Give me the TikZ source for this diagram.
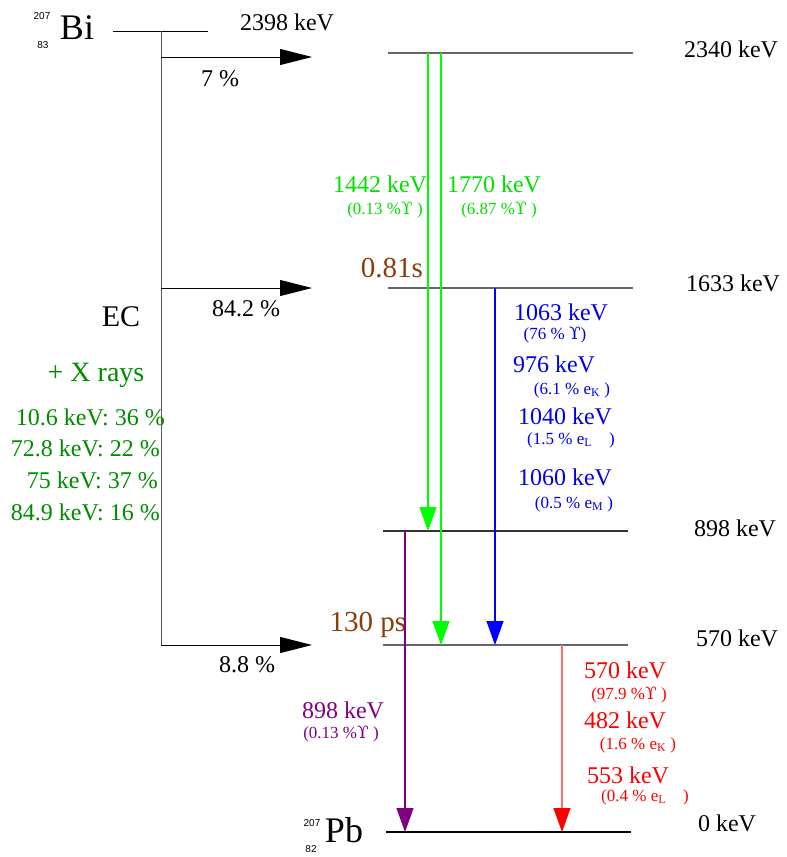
\documentclass[tikz,border=0pt]{standalone}
\usepackage{fontspec}
\setmainfont{Liberation Serif}
\newfontfamily\greekfont{DejaVu Serif}
\newfontfamily\isofont{Liberation Sans}
\usetikzlibrary{arrows.meta}
\definecolor{gammagreen}{RGB}{0,225,0}
\definecolor{linegreen}{RGB}{0,255,0}
\definecolor{xraygreen}{RGB}{0,140,0}
\definecolor{lifebrown}{RGB}{140,60,10}
\definecolor{convblue}{RGB}{0,0,230}
\definecolor{lineblue}{RGB}{0,0,255}
\definecolor{gammapurple}{RGB}{128,0,128}
\definecolor{convred}{RGB}{255,0,0}
\definecolor{linered}{RGB}{255,110,110}
\newcommand{\gam}{{\greekfont ϒ}}

\begin{document}
\begin{tikzpicture}[x=1pt, y=-1pt,
  lbl/.style = {inner sep=0pt, font=\fontsize{24}{27}\selectfont},
  sml/.style = {inner sep=0pt, font=\fontsize{17}{19}\selectfont},
  big/.style = {inner sep=0pt, font=\fontsize{36}{40}\selectfont},
  iso/.style = {inner sep=0pt, font=\isofont\fontsize{10}{11}\selectfont},
  level/.style = {draw=black!60, line width=1.3pt},
  ecarr/.style = {-{Triangle[length=32pt,width=16pt]}, draw=black, line width=0.8pt},
  trans/.style = {line width=1.2pt, -{Triangle[length=24pt,width=17pt,color=#1,fill=#1]}}
]
\useasboundingbox (0,0) rectangle (787,857);

% parent and daughter
\node[big] (bi) at (77,28) {Bi};
\node[iso] (biA) at (42,16) {207};
\node[iso] (biZ) at (43,45) {83};
\node[big] (pb) at (344,830) {Pb};
\node[iso] (pbA) at (312,823) {207};
\node[iso] (pbZ) at (311,849) {82};

% levels
\coordinate (Lbil) at (113,31);  \coordinate (Lbir) at (208,31);
\coordinate (L2340l) at (388,53); \coordinate (L2340r) at (633,53);
\coordinate (L1633l) at (388,288); \coordinate (L1633r) at (633,288);
\coordinate (L898l) at (383,531); \coordinate (L898r) at (628,531);
\coordinate (L570l) at (383,645); \coordinate (L570r) at (628,645);
\coordinate (L0l) at (386,832); \coordinate (L0r) at (631,832);
\draw[black, line width=0.9pt] (Lbil) -- (Lbir);
\draw[level] (L2340l) -- (L2340r);
\draw[level] (L1633l) -- (L1633r);
\draw[level, draw=black!80] (L898l) -- (L898r);
\draw[level] (L570l) -- (L570r);
\draw[level, draw=black] (L0l) -- (L0r);

\node[lbl] (e2398) at (287,22) {2398 keV};
\node[lbl] (e2340) at (731,49) {2340 keV};
\node[lbl] (e1633) at (733,283) {1633 keV};
\node[lbl] (e898) at (735,528) {898 keV};
\node[lbl] (e570) at (737,638) {570 keV};
\node[lbl] (e0) at (727,823) {0 keV};

% electron capture
\coordinate (ec0) at (161,31);
\coordinate (ec1) at (161,57);  \coordinate (ec1e) at (312,57);
\coordinate (ec2) at (161,288); \coordinate (ec2e) at (312,288);
\coordinate (ec3) at (161,645); \coordinate (ec3e) at (312,645);
\draw[black!65, line width=1pt] (ec0) -- (ec3);
\draw[ecarr] (ec1) -- (ec1e);
\draw[ecarr] (ec2) -- (ec2e);
\draw[ecarr] (ec3) -- (ec3e);
\node[lbl] (br1) at (220,79) {7 \%};
\node[lbl] (br2) at (246,309) {84.2 \%};
\node[lbl] (br3) at (247,665) {8.8 \%};
\node[inner sep=0pt, font=\fontsize{30}{32}\selectfont] (ec) at (121,317) {EC};
\node[inner sep=0pt, xraygreen, font=\fontsize{28}{30}\selectfont] (xr) at (96,375) {+ X rays};
\node[lbl, xraygreen, anchor=east] (xr1) at (165,417) {10.6 keV: 36 \%};
\node[lbl, xraygreen, anchor=east] (xr2) at (160,448) {72.8 keV: 22 \%};
\node[lbl, xraygreen, anchor=east] (xr3) at (158,480) {75 keV: 37 \%};
\node[lbl, xraygreen, anchor=east] (xr4) at (160,512) {84.9 keV: 16 \%};

% half-lives
\node[inner sep=0pt, lifebrown, font=\fontsize{29}{31}\selectfont] (t1633) at (392,268) {0.81s};
\node[inner sep=0pt, lifebrown, font=\fontsize{29}{31}\selectfont] (t570) at (368,625) {130 ps};

% transitions
\coordinate (g1s) at (428,53);  \coordinate (g1e) at (428,531);
\coordinate (g2s) at (441,53);  \coordinate (g2e) at (441,645);
\coordinate (b1s) at (495,288); \coordinate (b1e) at (495,645);
\coordinate (p1s) at (405,531); \coordinate (p1e) at (405,832);
\coordinate (r1s) at (562,645); \coordinate (r1e) at (562,832);
\draw[trans=linegreen, draw=linegreen] (g1s) -- (g1e);
\draw[trans=linegreen, draw=linegreen] (g2s) -- (g2e);
\draw[trans=lineblue, draw=lineblue] (b1s) -- (b1e);
\draw[trans=gammapurple, draw=gammapurple] (p1s) -- (p1e);
\draw[trans=convred, draw=linered] (r1s) -- (r1e);

\node[lbl, gammagreen] (g1a) at (380,184) {1442 keV};
\node[sml, gammagreen] (g1b) at (385,210) {(0.13 \%\gam\ )};
\node[lbl, gammagreen] (g2a) at (494,184) {1770 keV};
\node[sml, gammagreen] (g2b) at (499,210) {(6.87 \%\gam\ )};

\node[lbl, convblue] (b1a) at (561,312) {1063 keV};
\node[sml, convblue] (b1b) at (555,335) {(76 \% \gam)};
\node[lbl, convblue] (b2a) at (554,364) {976 keV};
\node[sml, convblue] (b2b) at (572,390) {(6.1 \% e\textsubscript{K} )};
\node[lbl, convblue] (b3a) at (565,416) {1040 keV};
\node[sml, convblue] (b3b) at (571,440) {(1.5 \% e\textsubscript{L}\quad)};
\node[lbl, convblue] (b4a) at (565,477) {1060 keV};
\node[sml, convblue] (b4b) at (574,504) {(0.5 \% e\textsubscript{M} )};

\node[lbl, gammapurple] (p1a) at (343,710) {898 keV};
\node[sml, gammapurple] (p1b) at (341,734) {(0.13 \%\gam\ )};

\node[lbl, convred] (r1a) at (625,670) {570 keV};
\node[sml, convred] (r1b) at (629,695) {(97.9 \%\gam\ )};
\node[lbl, convred] (r2a) at (625,720) {482 keV};
\node[sml, convred] (r2b) at (638,745) {(1.6 \% e\textsubscript{K} )};
\node[lbl, convred] (r3a) at (628,775) {553 keV};
\node[sml, convred] (r3b) at (645,797) {(0.4 \% e\textsubscript{L}\quad)};
\end{tikzpicture}
\end{document}
